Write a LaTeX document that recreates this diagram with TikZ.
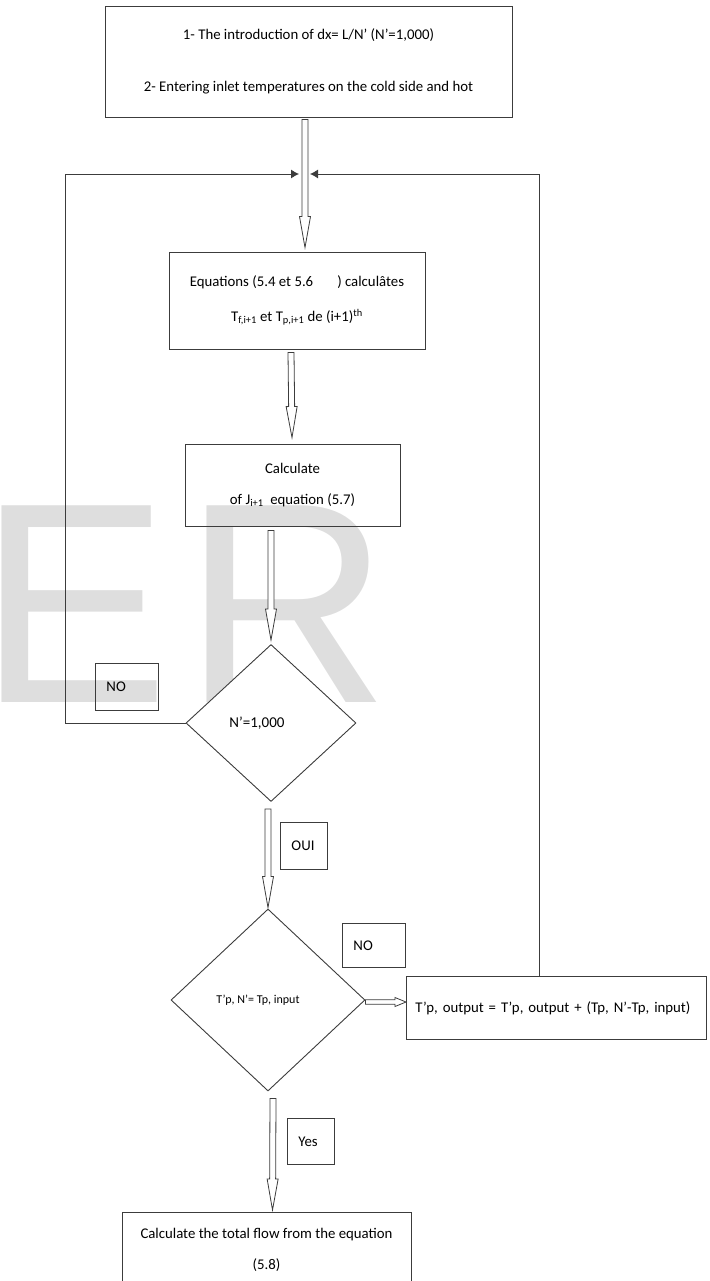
\documentclass[tikz,border=0pt]{standalone}
\usepackage{fontspec}
\setmainfont{Carlito}
\newfontfamily\markfont{Liberation Sans}
\usepackage{xcolor}
\usetikzlibrary{shapes.geometric,arrows.meta,calc,positioning}
\definecolor{linegray}{RGB}{60,60,60}
\definecolor{markgray}{RGB}{222,222,222}
\newcommand\hshaft{3pt}
\newcommand\hhead{5.5pt}
\newcommand\hlen{31pt}

\tikzset{
    hollow/.style={draw=linegray, line width=0.8pt, fill=white, line join=miter,
        to path={
            ($(\tikztostart)!\hshaft!90:(\tikztotarget)$)
            -- ($($(\tikztotarget)!\hlen!(\tikztostart)$)!\hshaft!90:(\tikztotarget)$)
            -- ($($(\tikztotarget)!\hlen!(\tikztostart)$)!\hhead!90:(\tikztotarget)$)
            -- (\tikztotarget)
            -- ($($(\tikztotarget)!\hlen!(\tikztostart)$)!\hhead!-90:(\tikztotarget)$)
            -- ($($(\tikztotarget)!\hlen!(\tikztostart)$)!\hshaft!-90:(\tikztotarget)$)
            -- ($(\tikztostart)!\hshaft!-90:(\tikztotarget)$)
            -- cycle}},
    minihead/.code={\renewcommand\hshaft{2.2pt}\renewcommand\hhead{4.5pt}\renewcommand\hlen{11pt}}
}

\begin{document}
\begin{tikzpicture}[
        x=1pt, y=-1pt,
        box/.style={rectangle, draw=linegray, line width=0.9pt, align=center,
            inner sep=0pt, font=\fontsize{14.8}{31}\selectfont},
        tag/.style={rectangle, draw=linegray, line width=0.9pt, align=left,
            anchor=north west, inner xsep=11pt, inner ysep=0pt,
            font=\fontsize{14.8}{18}\selectfont},
        test/.style={diamond, draw=linegray, line width=0.9pt, fill=white,
            inner sep=0pt, align=center},
        feedback/.style={draw=linegray, line width=0.9pt, -{Latex[length=8pt,width=9pt]}}
    ]
        \path[use as bounding box, clip] (0,0) rectangle (709,1281);
        % watermark
        \node[anchor=base west, inner sep=0pt, text=markgray,
            font=\markfont\fontsize{286}{286}\selectfont] (mark) at (-22,702) {E\kern15ptR};

        \node[box, minimum width=407pt, minimum height=111pt,
            font=\fontsize{14.8}{52}\selectfont] (start) at (308.5,61.5)
            {1- The introduction of dx= L/N’ (N’=1,000)\\2- Entering inlet temperatures on the cold side and hot};
        \node[box, minimum width=256pt, minimum height=97pt,
            font=\fontsize{14.8}{35}\selectfont] (eq) at (297,300.5)
            {Equations (5.4 et 5.6\hspace{24pt}) calculâtes\\T\textsubscript{f,i+1} et T\textsubscript{p,i+1} de (i+1)\textsuperscript{th}};
        \node[box, minimum width=215pt, minimum height=82pt] (jcalc) at (292.5,485)
            {Calculate\\of J\textsubscript{i+1}\ \ equation (5.7)};
        \node[test, minimum width=170pt, minimum height=157pt,
            font=\fontsize{15}{18}\selectfont] (test1) at (271,723) {N’=1,000\hspace*{28pt}};
        \node[test, minimum width=194pt, minimum height=182pt,
            font=\fontsize{12}{14}\selectfont] (test2) at (268,1000) {T’p, N’= Tp, input\hspace*{20pt}};
        \node[box, anchor=north, minimum width=289pt, inner ysep=16pt] (final) at (266.5,1212)
            {Calculate the total flow from the equation\\(5.8)};

        % answer tags
        \node[tag, minimum height=47pt, text width=41pt] (no1) at (95,663) {NO};
        \node[tag, minimum height=47pt, text width=25pt] (oui) at (280,822) {OUI};
        \node[tag, minimum height=44pt, text width=41pt] (no2) at (342,923) {NO};
        \node[tag, minimum height=46pt, text width=25pt] (yes) at (287,1118) {Yes};
        \node[tag, minimum height=63pt, text width=282pt, inner xsep=9pt] (out) at (406,976)
            {T’p, output = T’p, output + (Tp, N'-Tp, input)};

        % main flow
        \draw[hollow] ([xshift=-3.5pt,yshift=-2pt]start.south) to ([xshift=8pt,yshift=4pt]eq.north);
        \draw[hollow] ([xshift=-6pt,yshift=-3pt]eq.south) to ([xshift=-0.5pt,yshift=6pt]jcalc.north);
        \draw[hollow] ([xshift=-21.5pt,yshift=-4pt]jcalc.south) to ([yshift=4pt]test1.north);
        \draw[hollow] ([xshift=-3pt,yshift=-7pt]test1.south) to ([yshift=1pt]test2.north);
        \draw[hollow, minihead] ([yshift=-2pt]test2.east) to ([yshift=-2pt]test2.east -| out.west);
        \draw[hollow] ([xshift=5pt,yshift=-7pt]test2.south) to ([xshift=6pt,yshift=2pt]final.north);

        % loops back
        \coordinate (inL) at (299,174);
        \coordinate (inR) at (310,174);
        \draw[feedback] (test1.west) -- ++(-120,0) |- (inL);
        \draw[feedback] ([xshift=-17pt]out.north) |- (inR);
    \end{tikzpicture}
\end{document}
